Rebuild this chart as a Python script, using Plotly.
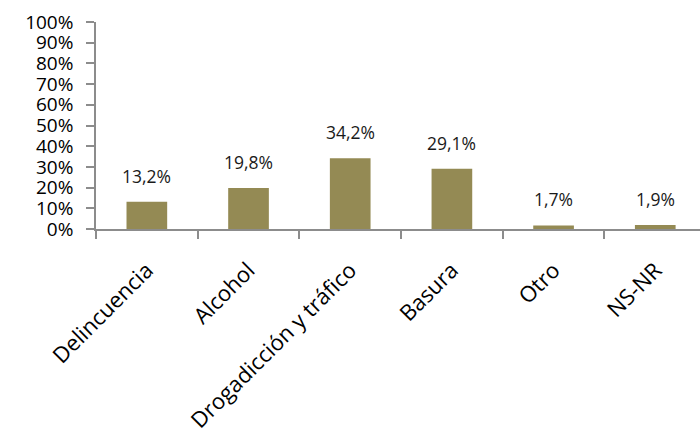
import plotly.graph_objects as go

categorias = ["Delincuencia", "Alcohol", "Drogadicción y tráfico", "Basura", "Otro", "NS-NR"]
porcentajes = [13.2, 19.8, 34.2, 29.1, 1.7, 1.9]
ticks_y = list(range(0, 101, 10))

color_barra = "#948A54"
color_eje = "#8C8C8C"
fuente = "Open Sans"

fig = go.Figure(
    go.Bar(
        x=categorias,
        y=porcentajes,
        marker=dict(color=color_barra, line=dict(width=0)),
        width=0.4,
        hoverinfo="skip",
    )
)

# Etiquetas de valor con coma decimal sobre cada barra
for cat, v in zip(categorias, porcentajes):
    fig.add_annotation(
        x=cat, y=v, text=f"{v:.1f}%".replace(".", ","),
        showarrow=False, yanchor="bottom", yshift=12,
        font=dict(family=fuente, size=17.5, color="#1a1a1a"),
    )

fig.update_layout(
    width=700, height=433,
    margin=dict(l=96, r=0, t=22, b=204),
    paper_bgcolor="white", plot_bgcolor="white",
    showlegend=False,
    bargap=0.6,
)

fig.update_yaxes(
    range=[0, 100], tickvals=ticks_y, ticktext=[f"{t}%" for t in ticks_y],
    showgrid=False, zeroline=False,
    showline=True, linecolor=color_eje, linewidth=1.5,
    ticks="outside", ticklen=8, tickcolor=color_eje, tickwidth=1.5,
    ticklabelstandoff=9,
    tickfont=dict(family=fuente, size=19, color="#000"),
)

fig.update_xaxes(
    type="category", range=[-0.5, 5.44],
    tickson="boundaries", ticks="outside", ticklen=8,
    tickcolor=color_eje, tickwidth=1.5,
    showline=True, linecolor=color_eje, linewidth=1.5,
    showgrid=False, tickangle=-45,
    ticklabelstandoff=18,
    tickfont=dict(family=fuente, size=22, color="#000"),
)

fig.write_html("out.html")
